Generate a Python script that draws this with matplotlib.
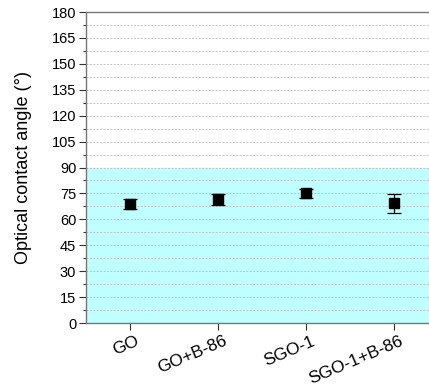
import numpy as np
import matplotlib.pyplot as plt
import matplotlib.transforms as mtransforms

plt.rcParams['font.family'] = ['Liberation Sans', 'DejaVu Sans']

# contact angle measurements (mean and standard deviation)
samples = ['GO', 'GO+B-86', 'SGO-1', 'SGO-1+B-86']
angle = [68.8, 71.5, 75.0, 69.2]
angle_err = [2.9, 3.0, 2.8, 5.5]

fig = plt.figure(figsize=(4.29, 3.88), dpi=100)
ax = fig.add_axes([0.2005, 0.1675, 0.8205, 0.8015])

x = np.arange(1, len(samples) + 1)

# hydrophilic region below 90 degrees
ax.axhspan(0, 90, color='#c0ffff', zorder=0)

# dotted grid at every minor step
for yv in np.arange(7.5, 180, 7.5):
    ax.axhline(yv, color='#c4c4c4', lw=0.7, ls=(0, (2, 1.5)), zorder=1)

ax.errorbar(x, angle, yerr=angle_err, fmt='s', color='black', ms=6.5,
            ecolor='black', elinewidth=0.9, capsize=5, capthick=0.9, zorder=3)

ax.set_xlim(0.5, 4.5)
ax.set_ylim(0, 180)
ax.set_yticks(np.arange(0, 181, 15))
ax.set_yticks(np.arange(7.5, 180, 15), minor=True)
ax.set_xticks(x)
ax.set_xticklabels([])

# slanted sample names, set a little right of and below their ticks
trans = ax.get_xaxis_transform() + mtransforms.ScaledTranslation(
    3.5 / 72, -7.5 / 72, fig.dpi_scale_trans)
for xi, name in zip(x, samples):
    ax.text(xi, 0, name, transform=trans, rotation=23, fontsize=12.5,
            ha='right', va='top', rotation_mode='anchor', clip_on=False)

ax.tick_params(axis='y', labelsize=10.5, length=5, width=0.8, color='#333333', pad=2)
ax.tick_params(axis='y', which='minor', length=2.5, width=0.8, color='#333333')
ax.tick_params(axis='x', length=5, width=0.8, color='#333333', pad=2)
ax.set_ylabel('Optical contact angle (°)', fontsize=13, labelpad=14)

for side in ['left', 'bottom', 'top']:
    ax.spines[side].set_color('#777777')
    ax.spines[side].set_linewidth(1.0)
ax.spines['right'].set_visible(False)

fig.savefig('out.png', dpi=100)
